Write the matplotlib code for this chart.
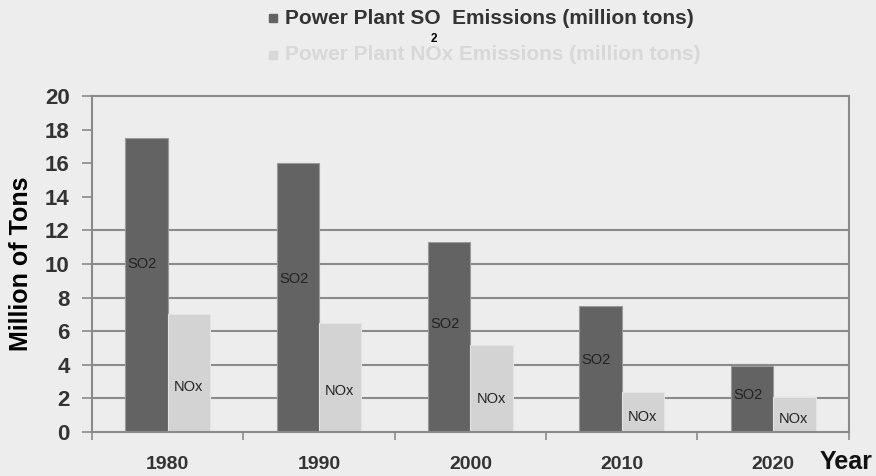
import numpy as np
import matplotlib.pyplot as plt

plt.rcParams['font.family'] = ['Liberation Sans', 'DejaVu Sans']

# data
years = ['1980', '1990', '2000', '2010', '2020']
so2 = [17.5, 16.0, 11.3, 7.5, 3.9]
nox = [7.0, 6.5, 5.2, 2.4, 2.1]
yticks = [0, 2, 4, 6, 8, 10, 12, 14, 16, 18, 20]
grid_at = [2, 4, 6, 8, 10, 12]

bg = '#ededed'
dark = '#636363'
light = '#d3d3d3'
axc = '#8a8a8a'

fig = plt.figure(figsize=(8.76, 4.76), dpi=100, facecolor=bg)
ax = fig.add_axes([0.105, 0.0924, 0.864, 0.706])
ax.set_facecolor(bg)

x = np.arange(len(years))
w = 0.28
for g in grid_at:
    ax.axhline(g, color=axc, lw=1.5, zorder=1)

ax.bar(x - w / 2, so2, w, color=dark, edgecolor='#9a9a9a', lw=0.8, zorder=2)
ax.bar(x + w / 2, nox, w, color=light, edgecolor='#e4e4e4', lw=0.8, zorder=2)

for i in range(len(years)):
    ax.text(x[i] - w + 0.015, so2[i] * 0.57, 'SO2', fontsize=10.5, color='#222222',
            ha='left', va='center', zorder=3)
    ax.text(x[i] + 0.04, nox[i] * 0.38, 'NOx', fontsize=10.5, color='#222222',
            ha='left', va='center', zorder=3)

ax.set_xlim(-0.5, len(years) - 0.5)
ax.set_ylim(0, 20)
ax.set_yticks(yticks)
ax.set_yticklabels([str(t) for t in yticks], fontsize=16, fontweight='bold', color='#333333')
ax.set_xticks(x)
ax.set_xticklabels(years, fontsize=14, fontweight='bold', color='#333333')
ax.tick_params(axis='x', length=0, pad=17)
ax.set_xticks(np.arange(len(years) + 1) - 0.5, minor=True)
ax.tick_params(axis='x', which='minor', length=6, color=axc, width=1.2, direction='out')
ax.tick_params(axis='y', length=7, color=axc, width=1.2, pad=9)

for side in ['left', 'right', 'top', 'bottom']:
    ax.spines[side].set_color(axc)
    ax.spines[side].set_linewidth(1.5)

ax.set_ylabel('Million of Tons', fontsize=18, fontweight='bold', color='black', labelpad=9)
fig.text(873 / 876, 1 - 462 / 476, 'Year', fontsize=18, fontweight='bold',
         color='#111111', ha='right', va='center')

# legend drawn by hand to copy the odd subscript layout
fig.patches.append(plt.Rectangle((269 / 876, 1 - 22 / 476), 8 / 876, 8 / 476,
                                 transform=fig.transFigure, color=dark))
fig.text(285 / 876, 1 - 18 / 476, 'Power Plant SO  Emissions (million tons)',
         fontsize=15, fontweight='bold', color='#333333', ha='left', va='center')
fig.text(434 / 876, 1 - 39 / 476, '2', fontsize=8.5, fontweight='bold',
         color='black', ha='center', va='center')
fig.patches.append(plt.Rectangle((269 / 876, 1 - 59 / 476), 8 / 876, 8 / 476,
                                 transform=fig.transFigure, color='#d8d8d8'))
fig.text(285 / 876, 1 - 55 / 476, 'Power Plant NOx Emissions (million tons)',
         fontsize=15, fontweight='bold', color='#d8d8d8', ha='left', va='center')

fig.savefig('out.png', dpi=100, facecolor=bg)
